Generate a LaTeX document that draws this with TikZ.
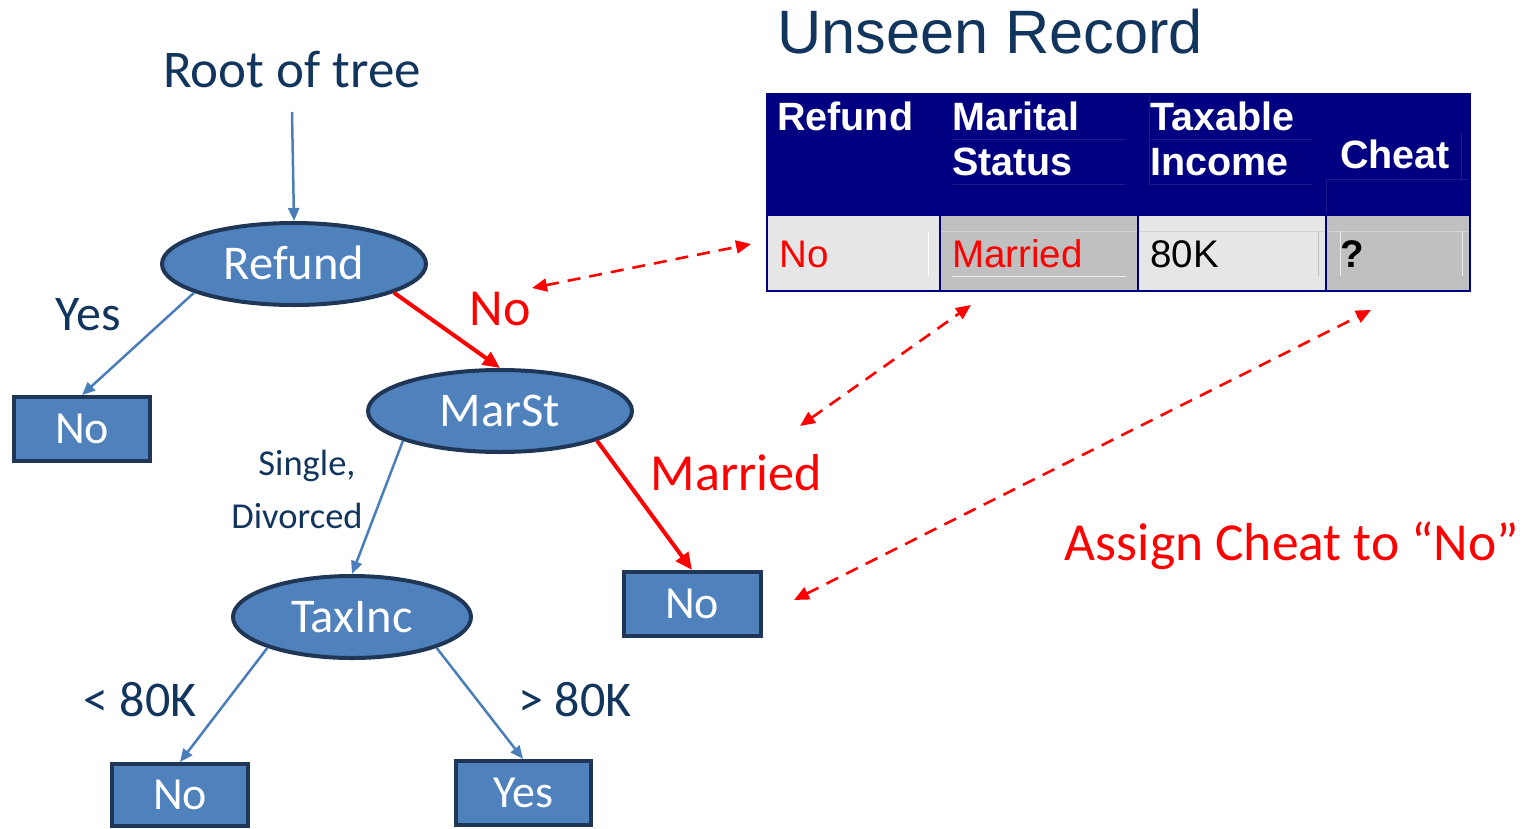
\documentclass[tikz,border=0pt]{standalone}
\usepackage{fontspec}
\setmainfont{Carlito}
\newfontfamily\arialfont{Liberation Sans}
\usetikzlibrary{shapes.geometric,arrows.meta,calc}

\definecolor{nodefill}{HTML}{4F81BD}
\definecolor{nodeline}{HTML}{1F3656}
\definecolor{edgeblue}{HTML}{4A7EBB}
\definecolor{labelnavy}{HTML}{12355E}
\definecolor{hdrnavy}{HTML}{000080}
\definecolor{hdrghost}{HTML}{1A1A8C}
\definecolor{cellA}{HTML}{E6E6E6}
\definecolor{cellB}{HTML}{C0C0C0}
\definecolor{hot}{HTML}{FF0000}

\newcommand{\fs}[1]{\fontsize{#1}{#1}\selectfont}

\tikzset{
  testnode/.style={ellipse, draw=nodeline, line width=4pt, fill=nodefill,
    text=white, inner sep=0pt, font=\fs{48.5}, text height=31pt, text depth=0pt},
  leafnode/.style={rectangle, draw=nodeline, line width=4pt, fill=nodefill,
    text=white, inner sep=0pt, font=\fs{46}, text height=29.5pt, text depth=0pt},
  edgelbl/.style={text=labelnavy, inner sep=0pt, anchor=base},
  hotlbl/.style={text=hot, inner sep=0pt, anchor=base},
  blueedge/.style={draw=edgeblue, line width=2.5pt, -{Triangle[length=13pt,width=11pt]}},
  hotedge/.style={draw=hot, line width=4pt, -{Triangle[length=17pt,width=15pt]}},
  linkedge/.style={draw=hot, line width=2.6pt, dash pattern=on 13pt off 9pt,
    {Triangle[length=15pt,width=13pt]}-{Triangle[length=15pt,width=13pt]}},
  hdrtxt/.style={text=white, inner sep=0pt, anchor=base west,
    font=\arialfont\bfseries\fs{39.5}},
  celltxt/.style={inner sep=0pt, anchor=base west, font=\arialfont\fs{38.5}},
}

\begin{document}
\begin{tikzpicture}[x=1pt, y=-1pt]
\useasboundingbox (0,0) rectangle (1534,828);

% ---------- decision tree ----------
\node[edgelbl, font=\fs{53}] (root) at (292,87) {Root of tree};

\node[testnode, minimum width=264pt, minimum height=82pt] (refund) at (294,264) {Refund};
\node[testnode, minimum width=264pt, minimum height=82pt] (marst) at (500,411) {MarSt};
\node[testnode, minimum width=238pt, minimum height=82pt] (taxinc) at (352,617) {TaxInc};

\node[leafnode, minimum width=136pt, minimum height=64pt] (leafA) at (82,429) {No};
\node[leafnode, minimum width=137pt, minimum height=64pt] (leafB) at (692,604) {No};
\node[leafnode, minimum width=136pt, minimum height=62pt] (leafC) at (180,795) {No};
\node[leafnode, minimum width=135pt, minimum height=64pt] (leafD) at (523,793) {Yes};

\coordinate (rootfoot) at ($(root.base)+(0,25)$);
\draw[blueedge] (rootfoot) -- (refund.north);
\draw[blueedge] (refund.196) -- (leafA.north);
\draw[hotedge] (refund.344) -- (marst.north);
\draw[blueedge] (marst.197) -- (taxinc.north);
\draw[hotedge] (marst.343) -- (leafB.north);
\draw[blueedge] (taxinc.200) -- (leafC.north);
\draw[blueedge] (taxinc.340) -- (leafD.north);

\node[edgelbl, font=\fs{50}] (lblyes) at (88,330) {Yes};
\node[hotlbl, font=\fs{52}] (lblno) at (500,325) {No};
\node[edgelbl, font=\fs{36.5}] (lblsingle) at (307,475) {Single,};
\node[edgelbl, font=\fs{36.5}] (lbldiv) at (297,528) {Divorced};
\node[hotlbl, font=\fs{52}] (lblmarried) at (736,490) {Married};
\node[edgelbl, font=\fs{50}] (lbllt) at (140,716) {< 80K};
\node[edgelbl, font=\fs{50}] (lblgt) at (575,716) {> 80K};

% ---------- unseen record table ----------
\node[inner sep=0pt, anchor=base west, text=labelnavy, font=\arialfont\fs{61.3}]
  (title) at (777,53) {Unseen Record};

\fill[hdrnavy] (767,94) rectangle (1470,215);
\fill[cellA] (767,215) rectangle (940,291);
\fill[cellB] (940,215) rectangle (1138,291);
\fill[cellA] (1138,215) rectangle (1326,291);
\fill[cellB] (1326,215) rectangle (1470,291);

% faint inner rules of the header cells
\begin{scope}[draw=hdrghost, line width=1pt]
  \draw (952,139) -- (1126,139);
  \draw (952,184) -- (1126,184);
  \draw (1149,95) -- (1149,184);
  \draw (1149,139) -- (1313,139);
  \draw (1149,184) -- (1313,184);
  \draw (1326,179) -- (1470,179);
  \draw (1461,133) -- (1461,179);
  \draw (1326,179) -- (1326,215);
\end{scope}
% faint inner rules of the record row
\begin{scope}[line width=1pt]
  \draw[draw=cellB!70!white] (940,231) -- (1470,231);
  \draw[draw=cellA!70!white] (952,276) -- (1126,276);
  \draw[draw=cellB] (1318,231) -- (1318,276);
  \draw[draw=cellA!80!white] (1340,231) -- (1340,276);
  \draw[draw=cellA!80!white] (1462,231) -- (1462,276);
  \draw[draw=white] (928,231) -- (928,276);
\end{scope}

% cell borders
\begin{scope}[draw=hdrnavy, line width=1.5pt]
  \draw (767,94) rectangle (1470,291);
  \draw (767,215) -- (1470,215);
  \draw (940,94) -- (940,291);
  \draw (1138,94) -- (1138,291);
  \draw (1326,215) -- (1326,291);
\end{scope}

\node[hdrtxt] (hRefund) at (777,130) {Refund};
\node[hdrtxt] (hMar) at (952,130) {Marital};
\node[hdrtxt] (hStat) at (952,175) {Status};
\node[hdrtxt] (hTax) at (1150,130) {Taxable};
\node[hdrtxt] (hInc) at (1150,175) {Income};
\node[hdrtxt] (hCheat) at (1340,168) {Cheat};

\node[celltxt, text=hot] (vRefund) at (779,267) {No};
\node[celltxt, text=hot] (vMar) at (952,267) {Married};
\node[celltxt, text=black] (vInc) at (1150,267) {80K};
\node[celltxt, text=black, font=\arialfont\bfseries\fs{38.5}] (vCheat) at (1340,267) {?};

% ---------- links between record and tree ----------
\coordinate (linkAtree) at (532,288);
\coordinate (linkAcell) at (751,244);
\coordinate (linkBtree) at (800,426);
\coordinate (linkBcell) at (971,305);
\coordinate (linkCtree) at (794,600);
\coordinate (linkCcell) at (1371,310);
\draw[linkedge] (linkAtree) -- (linkAcell);
\draw[linkedge] (linkBtree) -- (linkBcell);
\draw[linkedge] (linkCtree) -- (linkCcell);

\node[hotlbl, font=\fs{53.5}] (assign) at (1292,560) {Assign Cheat to “No”};
\end{tikzpicture}
\end{document}
